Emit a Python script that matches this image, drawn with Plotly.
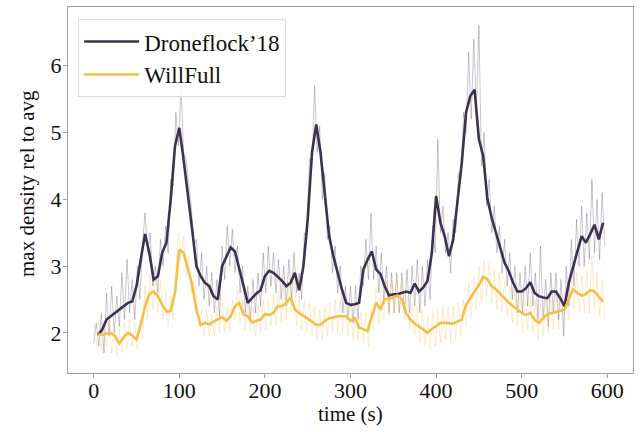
import plotly.graph_objects as go

# ---- data ----
smooth_t = list(range(5, 600, 5))

drone_smooth = [
    1.97, 2.05, 2.2, 2.25, 2.3, 2.35, 2.4, 2.45, 2.47, 2.7,
    3.1, 3.48, 3.2, 2.8, 2.85, 3.2, 3.35, 4.0, 4.8, 5.07,
    4.6, 4.1, 3.55, 3.0, 2.85, 2.75, 2.7, 2.55, 2.5, 3.0,
    3.15, 3.28, 3.22, 2.95, 2.7, 2.45, 2.52, 2.59, 2.64, 2.85,
    2.93, 2.9, 2.84, 2.78, 2.7, 2.75, 2.9, 2.64, 3.0, 3.7,
    4.7, 5.12, 4.7, 4.1, 3.45, 3.15, 2.9, 2.65, 2.45, 2.42,
    2.43, 2.45, 2.95, 3.1, 3.22, 2.95, 2.88, 2.7, 2.56, 2.58,
    2.58, 2.6, 2.62, 2.6, 2.74, 2.62, 2.68, 2.78, 3.2, 4.05,
    3.65, 3.45, 3.15, 3.4, 3.95, 4.55, 5.3, 5.55, 5.64, 4.9,
    4.65, 4.0, 3.72, 3.5, 3.27, 3.05, 2.92, 2.75, 2.62, 2.62,
    2.67, 2.76, 2.6, 2.55, 2.53, 2.52, 2.62, 2.62, 2.52, 2.4,
    2.75, 3.0, 3.22, 3.45, 3.35, 3.48, 3.62, 3.4, 3.65,
]

will_smooth = [
    1.98, 1.97, 1.99, 2.0, 1.95, 1.84, 1.93, 2.0, 1.96, 1.9,
    2.12, 2.4, 2.58, 2.62, 2.55, 2.42, 2.32, 2.33, 2.6, 3.25,
    3.2, 2.95, 2.72, 2.35, 2.12, 2.15, 2.13, 2.17, 2.2, 2.24,
    2.18, 2.25, 2.4, 2.45, 2.28, 2.25, 2.16, 2.18, 2.2, 2.28,
    2.27, 2.3, 2.4, 2.4, 2.45, 2.53, 2.35, 2.3, 2.26, 2.22,
    2.17, 2.12, 2.12, 2.18, 2.22, 2.23, 2.25, 2.25, 2.25, 2.18,
    2.22, 2.08, 2.06, 2.03, 2.25, 2.45, 2.36, 2.5, 2.52, 2.53,
    2.56, 2.5, 2.3, 2.2, 2.14, 2.1, 2.05, 2.0, 2.06, 2.1,
    2.15, 2.15, 2.14, 2.14, 2.17, 2.2, 2.42, 2.53, 2.62, 2.72,
    2.84, 2.8, 2.7, 2.65, 2.58, 2.52, 2.45, 2.4, 2.35, 2.3,
    2.27, 2.3, 2.2, 2.15, 2.22, 2.28, 2.3, 2.31, 2.33, 2.35,
    2.5, 2.65, 2.6, 2.56, 2.58, 2.64, 2.62, 2.55, 2.47,
]

raw_t = list(range(0, 600, 3))

drone_raw = [
    1.85, 2.15, 1.8, 2.3, 1.7, 2.6, 1.95, 2.7, 2.0, 2.55,
    2.1, 2.9, 2.2, 3.1, 2.3, 2.8, 2.2, 3.0, 2.5, 3.3,
    3.8, 3.2, 3.5, 2.7, 3.0, 2.6, 3.4, 3.0, 3.6, 3.2,
    4.3, 4.2, 5.3, 4.8, 5.7, 4.7, 4.6, 4.2, 3.9, 3.3,
    3.4, 2.7, 3.2, 2.5, 3.0, 2.4, 2.9, 2.3, 2.8, 2.25,
    3.3, 2.8, 3.6, 3.0, 3.55, 2.9, 3.3, 2.6, 3.0, 2.3,
    2.7, 2.2, 2.8, 2.3, 2.9, 2.4, 3.2, 2.6, 3.3, 2.7,
    3.2, 2.6, 3.1, 2.5, 3.0, 2.4, 3.1, 2.5, 3.2, 2.6,
    2.9, 2.5, 3.5, 3.4, 4.6, 4.5, 5.7, 4.7, 5.1, 4.0,
    4.4, 3.4, 3.6, 2.9, 3.3, 2.6, 3.0, 2.3, 2.7, 2.2,
    2.7, 2.15, 2.7, 2.2, 3.0, 2.7, 3.4, 2.8, 3.8, 2.8,
    3.3, 2.6, 3.2, 2.5, 3.0, 2.3, 2.9, 2.3, 2.9, 2.3,
    2.9, 2.3, 2.95, 2.3, 3.0, 2.4, 3.1, 2.3, 3.0, 2.4,
    3.1, 2.5, 3.6, 3.2, 4.9, 3.5, 3.9, 3.2, 3.5, 2.9,
    3.7, 3.5, 4.4, 4.3, 5.3, 5.0, 6.2, 5.2, 6.4, 5.3,
    6.6, 4.5, 5.0, 3.9, 4.3, 3.5, 3.9, 3.2, 3.6, 2.9,
    3.4, 2.7, 3.2, 2.5, 3.0, 2.3, 2.9, 2.3, 3.0, 2.4,
    3.2, 2.4, 2.9, 2.2, 3.3, 2.2, 2.8, 2.1, 2.9, 2.3,
    2.9, 2.2, 2.8, 1.95, 3.0, 2.4, 3.4, 2.7, 3.7, 3.0,
    3.9, 3.0, 3.8, 3.1, 4.3, 3.2, 4.0, 3.1, 4.1, 3.3,
]

will_raw = [
    2.15, 1.8, 2.2, 1.75, 2.15, 1.8, 2.2, 1.7, 2.1, 1.65,
    2.05, 1.7, 2.15, 1.75, 2.2, 1.8, 2.15, 1.75, 2.2, 1.9,
    2.7, 2.2, 2.9, 2.35, 2.85, 2.3, 2.8, 2.2, 2.6, 2.1,
    2.55, 2.2, 3.0, 3.5, 3.1, 3.45, 2.85, 3.15, 2.6, 2.8,
    2.55, 2.1, 2.35, 1.95, 2.35, 1.95, 2.3, 1.95, 2.4, 2.0,
    2.45, 2.0, 2.4, 2.0, 2.5, 2.2, 2.7, 2.15, 2.5, 2.05,
    2.45, 2.0, 2.4, 1.95, 2.4, 2.0, 2.5, 2.05, 2.5, 2.1,
    2.55, 2.1, 2.65, 2.15, 2.7, 2.2, 2.75, 2.3, 2.9, 2.1,
    2.55, 2.05, 2.5, 2.0, 2.45, 1.95, 2.4, 1.9, 2.35, 1.9,
    2.4, 1.95, 2.45, 2.0, 2.5, 2.0, 2.5, 2.0, 2.5, 1.95,
    2.45, 1.9, 2.45, 1.9, 2.3, 1.85, 2.3, 1.8, 2.35, 2.05,
    2.7, 2.15, 2.65, 2.2, 2.8, 2.25, 2.8, 2.3, 2.85, 2.3,
    2.75, 2.2, 2.55, 2.05, 2.45, 1.95, 2.4, 1.85, 2.35, 1.8,
    2.25, 1.75, 2.3, 1.8, 2.35, 1.85, 2.4, 1.9, 2.4, 1.85,
    2.4, 1.9, 2.45, 1.95, 2.5, 2.1, 2.75, 2.25, 2.85, 2.35,
    3.0, 2.45, 3.1, 2.55, 3.05, 2.45, 2.95, 2.35, 2.9, 2.3,
    2.8, 2.25, 2.7, 2.15, 2.65, 2.1, 2.6, 2.0, 2.5, 2.05,
    2.55, 2.0, 2.5, 1.9, 2.45, 1.95, 2.5, 2.0, 2.55, 2.05,
    2.6, 2.05, 2.6, 2.1, 2.65, 2.2, 2.85, 2.35, 2.9, 2.3,
    2.85, 2.3, 2.95, 2.3, 3.15, 2.35, 2.9, 2.25, 2.8, 2.2,
]

series_names = ["Droneflock\u201918", "WillFull"]
x_title = "time (s)"
y_title = "max density rel to avg"
x_ticks = [0, 100, 200, 300, 400, 500, 600]
y_ticks = [2, 3, 4, 5, 6]

DARK = "#3d3150"
GOLD = "#f2bf4f"

fig = go.Figure()
fig.add_trace(go.Scatter(x=raw_t, y=drone_raw, mode="lines", showlegend=False,
                         line=dict(color="rgba(61,49,80,0.28)", width=1), hoverinfo="skip"))
fig.add_trace(go.Scatter(x=raw_t, y=will_raw, mode="lines", showlegend=False,
                         line=dict(color="rgba(242,191,79,0.28)", width=1), hoverinfo="skip"))
fig.add_trace(go.Scatter(x=smooth_t, y=drone_smooth, mode="lines", name=series_names[0],
                         line=dict(color=DARK, width=2.6)))
fig.add_trace(go.Scatter(x=smooth_t, y=will_smooth, mode="lines", name=series_names[1],
                         line=dict(color=GOLD, width=2.6)))

font_family = "Liberation Serif, Times New Roman, serif"
axis_common = dict(showgrid=False, zeroline=False, showline=True, linecolor="#a0a0a0",
                   linewidth=1, mirror=True, ticks="outside", ticklen=4, tickwidth=1,
                   tickcolor="#a0a0a0", automargin=False,
                   tickfont=dict(family=font_family, size=22, color="#111111"))

fig.update_layout(
    template="simple_white",
    width=641, height=432,
    margin=dict(l=68, r=8, t=7, b=59),
    paper_bgcolor="white", plot_bgcolor="white",
    font=dict(family=font_family, color="#111111", size=22),
    xaxis=dict(range=[-30, 630], tickvals=x_ticks, ticklabelstandoff=-6, **axis_common),
    yaxis=dict(range=[1.4, 6.88], tickvals=y_ticks, ticklabelstandoff=-3, **axis_common),
    legend=dict(x=0.018, y=0.967, xanchor="left", yanchor="top",
                bgcolor="rgba(255,255,255,0.85)", bordercolor="#dddddd", borderwidth=1,
                font=dict(family=font_family, size=23), tracegroupgap=0, itemwidth=55),
    annotations=[
        dict(text=x_title, xref="paper", yref="paper", x=0.5, y=0, xanchor="center",
             yanchor="middle", yshift=-41, showarrow=False,
             font=dict(family=font_family, size=21, color="#111111")),
        dict(text=y_title, xref="paper", yref="paper", x=0, y=0.5, xanchor="center",
             yanchor="middle", xshift=-41, yshift=6, textangle=-90, showarrow=False,
             font=dict(family=font_family, size=21, color="#111111")),
    ],
)

fig.write_html("out.html", config={"displayModeBar": False},
               post_script="document.body.style.margin='0';document.body.style.padding='0';")
